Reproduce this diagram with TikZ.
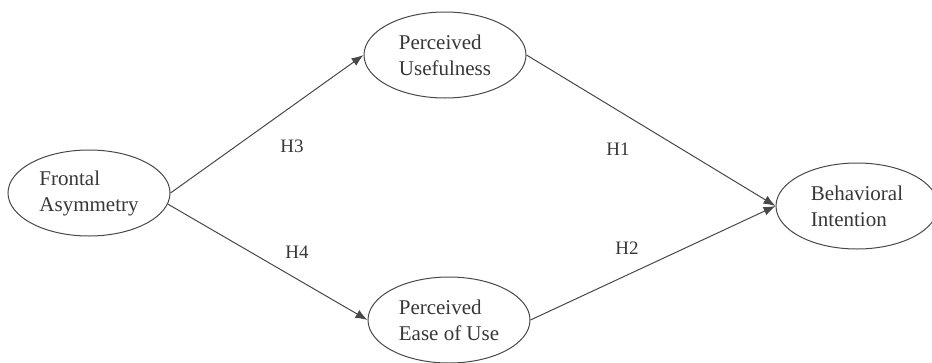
\documentclass[tikz,border=0pt]{standalone}
\usepackage{fontspec}
\setmainfont{Liberation Serif}
\usetikzlibrary{arrows.meta,positioning,shapes.geometric}
\definecolor{linegray}{RGB}{72,72,72}
\definecolor{textgray}{RGB}{55,55,55}

\begin{document}
\begin{tikzpicture}[x=1pt, y=-1pt,
  construct/.style={draw=linegray, ellipse, line width=1pt, minimum width=162pt, minimum height=86pt,
    inner sep=0pt, align=left, text=textgray, font=\fontsize{21}{26}\selectfont},
  path/.style={draw=linegray, line width=1pt, -{Latex[length=12pt,width=9pt]}},
  hyp/.style={text=textgray, font=\fontsize{19}{22}\selectfont}
]
\useasboundingbox (0,0) rectangle (932,362);
\node[construct] (fa) at (89,193) {Frontal\\Asymmetry};
\node[construct] (pu) at (445,55) {Perceived\\Usefulness};
\node[construct] (pe) at (449,320) {Perceived\\Ease of Use};
\node[construct] (bi) at (857,206) {Behavioral\\Intention};

% hypotheses
\draw[path] (fa.east) -- (pu.west);
\draw[path] (fa.-8) -- (pe.west);
\draw[path] (pu.east) -- (bi.west);
\draw[path] (pe.east) -- (bi.west);

\node[hyp] (h3) at (292,146) {H3};
\node[hyp] (h4) at (297,252) {H4};
\node[hyp] (h1) at (618,149) {H1};
\node[hyp] (h2) at (627,248) {H2};
\end{tikzpicture}
\end{document}
